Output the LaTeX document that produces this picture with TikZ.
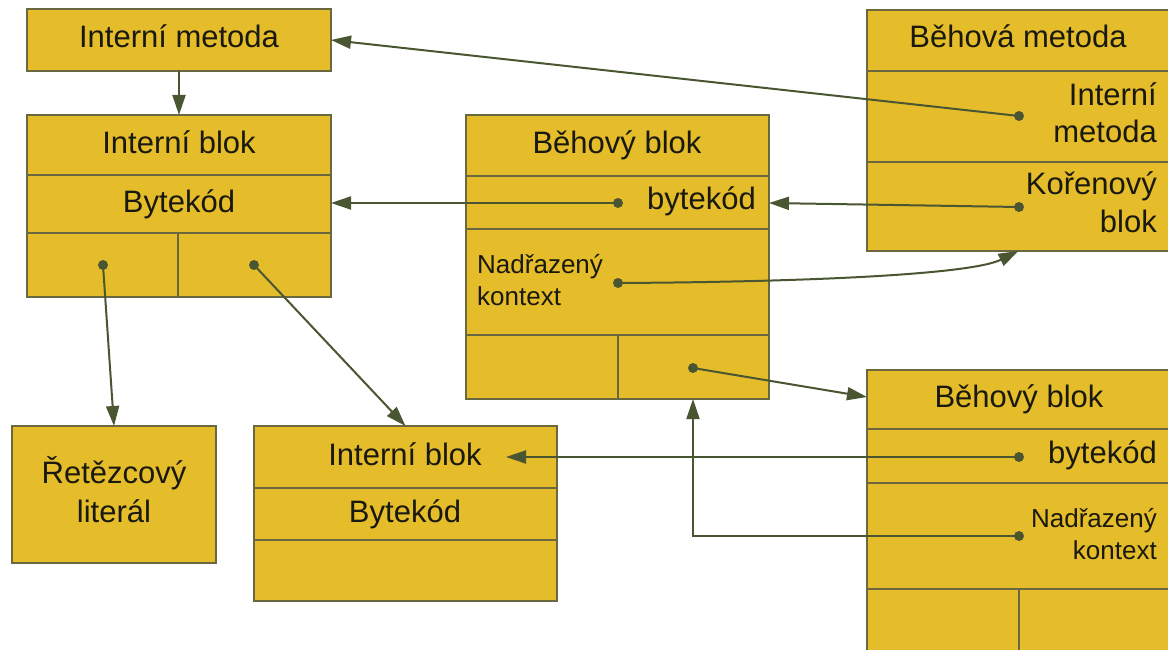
\documentclass[tikz,border=0pt]{standalone}
\usepackage{fontspec}
\setmainfont{Liberation Sans}
\usetikzlibrary{arrows.meta,calc}
\definecolor{boxfill}{RGB}{229,188,42}
\definecolor{boxline}{RGB}{105,104,62}
\definecolor{wire}{RGB}{74,86,50}
\definecolor{ink}{RGB}{25,25,15}

\begin{document}
\begin{tikzpicture}[x=1pt,y=-1pt,
  cell/.style={draw=boxline, fill=boxfill, line width=2pt, inner sep=0pt,
    outer sep=0pt, anchor=north west},
  sep/.style={draw=boxline, line width=2pt},
  lbl/.style={text=ink, font=\fontsize{31}{37}\selectfont, inner sep=0pt, anchor=base},
  lblr/.style={lbl, anchor=base east},
  small/.style={text=ink, font=\fontsize{26}{32}\selectfont, inner sep=0pt},
  link/.style={draw=wire, line width=2pt, -{Triangle[length=20pt,width=13pt]}},
  dot/.style={fill=wire}
]
\useasboundingbox (0,0) rectangle (1168,650);
\clip (0,0) rectangle (1168,650);

% ---- boxes ----
\node[cell, minimum width=304pt, minimum height=62pt]  (A) at (27,9)   {};
\node[cell, minimum width=304pt, minimum height=182pt] (B) at (27,115) {};
\node[cell, minimum width=303pt, minimum height=284pt] (C) at (466,115) {};
\node[cell, minimum width=303pt, minimum height=241pt] (D) at (867,10)  {};
\node[cell, minimum width=303pt, minimum height=300pt] (E) at (867,370) {};
\node[cell, minimum width=204pt, minimum height=137pt] (F) at (12,426)  {};
\node[cell, minimum width=303pt, minimum height=175pt] (G) at (254,426) {};

% ---- compartment lines ----
\draw[sep] (27,175) -- (331,175);
\draw[sep] (27,233) -- (331,233);
\draw[sep] (178,233) -- (178,297);

\draw[sep] (466,176) -- (769,176);
\draw[sep] (466,229) -- (769,229);
\draw[sep] (466,335) -- (769,335);
\draw[sep] (618,335) -- (618,399);

\draw[sep] (867,71) -- (1170,71);
\draw[sep] (867,162) -- (1170,162);

\draw[sep] (867,429) -- (1170,429);
\draw[sep] (867,483) -- (1170,483);
\draw[sep] (867,589) -- (1170,589);
\draw[sep] (1019,589) -- (1019,670);

\draw[sep] (254,488) -- (557,488);
\draw[sep] (254,540) -- (557,540);

% ---- labels ----
\node[lbl] (tA)  at (179,48)  {Interní metoda};
\node[lbl] (tB1) at (179,154) {Interní blok};
\node[lbl] (tB2) at (179,212) {Bytekód};

\node[lbl]  (tC1) at (617,154) {Běhový blok};
\node[lblr] (tC2) at (756,210) {bytekód};
\node[small, anchor=base west] (tC3) at (477,273) {Nadřazený};
\node[small, anchor=base west] (tC4) at (477,305) {kontext};

\node[lbl]  (tD1) at (1018,48)  {Běhová metoda};
\node[lblr] (tD2) at (1157,106) {Interní};
\node[lblr] (tD3) at (1157,143) {metoda};
\node[lblr] (tD4) at (1157,194) {Kořenový};
\node[lblr] (tD5) at (1157,233) {blok};

\node[lbl]  (tE1) at (1019,407) {Běhový blok};
\node[lblr] (tE2) at (1157,463) {bytekód};
\node[small, anchor=base east] (tE3) at (1157,527) {Nadřazený};
\node[small, anchor=base east] (tE4) at (1157,559) {kontext};

\node[lbl] (tF1) at (114,483) {Řetězcový};
\node[lbl] (tF2) at (114,522) {literál};

\node[lbl] (tG1) at (405,465) {Interní blok};
\node[lbl] (tG2) at (405,522) {Bytekód};

% ---- reference points ----
\coordinate (dB1) at (103,265);
\coordinate (dB2) at (254,265);
\coordinate (dC1) at (618,203);
\coordinate (dC2) at (618,283);
\coordinate (dC3) at (693,368);
\coordinate (dD1) at (1019,116);
\coordinate (dD2) at (1019,207);
\coordinate (dE1) at (1019,457);
\coordinate (dE2) at (1019,536);
\coordinate (eIn) at ($(E.north west)+(0,27)$);
\coordinate (gIn) at (506,457);

% ---- connectors ----
\draw[link] (A.south) -- (B.north);
\draw[link] (dD1) -- (A.east);
\draw[link] (dC1) -- (dC1 -| B.east);
\draw[link] (dD2) -- (dC1 -| C.east);
\draw[link] (dC2) .. controls (800,282) and (970,275) .. (D.south);
\draw[link] (dC3) -- (eIn);
\draw[link] (dE1) -- (gIn);
\draw[link] (dE2) -| (dC3 |- C.south);
\draw[link] (dB1) -- (F.north);
\draw[link] (dB2) -- (G.north);

% ---- pointer dots ----
\foreach \p in {dB1,dB2,dC1,dC2,dC3,dD1,dD2,dE1,dE2}
  \fill[dot] (\p) circle (5pt);
\end{tikzpicture}
\end{document}
